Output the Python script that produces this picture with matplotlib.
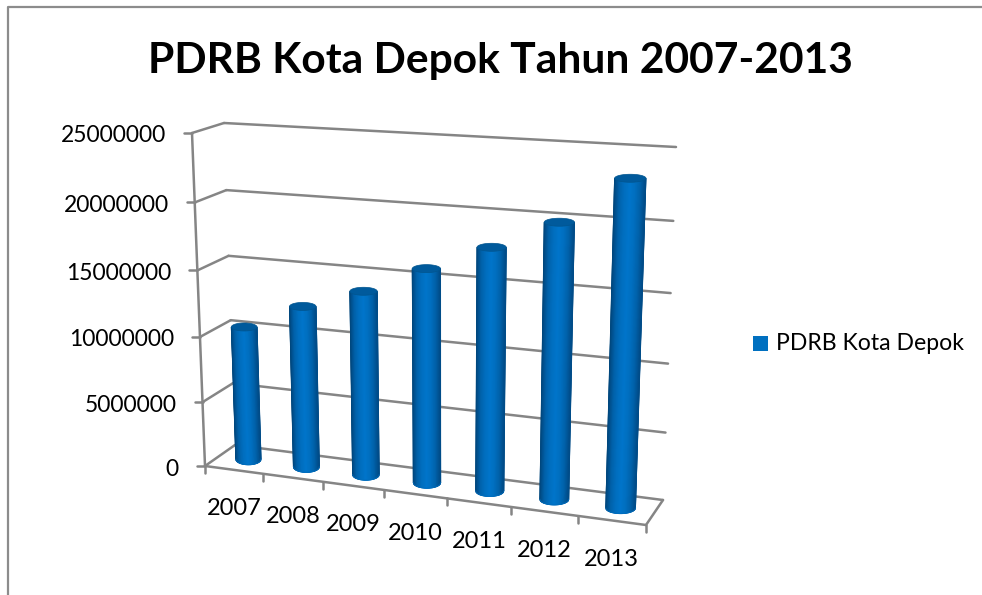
import numpy as np
import matplotlib
matplotlib.use('Agg')
import matplotlib.pyplot as plt
from matplotlib.colors import LinearSegmentedColormap
from matplotlib.patches import Polygon, Rectangle

plt.rcParams['font.family'] = ['Lato', 'DejaVu Sans']

# Data
years = ['2007', '2008', '2009', '2010', '2011', '2012', '2013']
pdrb = [10350000, 12350000, 13900000, 15950000, 17850000, 19950000, 23250000]
value_ticks = [0, 5000000, 10000000, 15000000, 20000000, 25000000]
series_name = 'PDRB Kota Depok'
title = 'PDRB Kota Depok Tahun 2007-2013'

VMAX = 25000000
GREY = '#858585'

# Corners of the chart box in pixels: (category 0, 0), (7, 0), (7, max), (0, max)
BACK = [(235, 445), (663, 500), (676, 147), (224, 123)]
FRONT = [(205, 466), (646, 525), (658, 161), (192, 133)]


def homography(corners):
    # unit square -> quad
    src = [(0, 0), (1, 0), (1, 1), (0, 1)]
    A, b = [], []
    for (u, v), (x, y) in zip(src, corners):
        A.append([u, v, 1, 0, 0, 0, -u * x, -v * x])
        A.append([0, 0, 0, u, v, 1, -u * y, -v * y])
        b += [x, y]
    h = np.linalg.solve(np.array(A, float), np.array(b, float))
    return np.append(h, 1).reshape(3, 3)


H_back = homography(BACK)
H_front = homography(FRONT)


def plane(H, cat, val):
    p = H @ np.array([cat / len(years), val / VMAX, 1.0])
    return p[:2] / p[2]


def project(cat, val, depth=0.0):
    # depth 0 is the front of the box, depth 1 the back wall
    return (1 - depth) * plane(H_front, cat, val) + depth * plane(H_back, cat, val)


def line3d(ax, a, b, zorder=2):
    ax.plot([a[0], b[0]], [a[1], b[1]], color=GREY, lw=1.8, zorder=zorder,
            solid_capstyle='round')


fig = plt.figure(figsize=(9.82, 5.95), dpi=100)
ax = fig.add_axes([0, 0, 1, 1])
ax.set_xlim(0, 982)
ax.set_ylim(595, 0)
ax.axis('off')

# Chart area border
ax.plot([8, 8, 982], [595, 7, 7], color='#8c8c8c', lw=1.6, zorder=1)

ax.text(500.5, 61, title, ha='center', va='center', fontsize=30.6, fontweight='bold',
        color='black')

# Gridlines, value axis and value labels
for v in value_ticks:
    front = project(0, v, 0)
    back_l = project(0, v, 1)
    back_r = project(len(years), v, 1)
    line3d(ax, front + np.array([-8, 0]), front)
    line3d(ax, front, back_l)
    line3d(ax, back_l, back_r)
    ax.text(front[0] - 26, front[1] + 3, str(v), ha='right', va='center',
            fontsize=16.5, color='black')
line3d(ax, project(0, 0, 0), project(0, VMAX, 0))

# Floor
n = len(years)
line3d(ax, project(n, 0, 0), project(n, 0, 1))
line3d(ax, project(0, 0, 0), project(n, 0, 0))
for i in range(n + 1):
    p = project(i, 0, 0)
    line3d(ax, p, p + np.array([0, 7]))

for i, label in enumerate(years):
    p = project(i + 0.5, 0, 0)
    ax.text(p[0], p[1] + 39, label, ha='center', va='center', fontsize=17, color='black')

# Cylinders
shade = LinearSegmentedColormap.from_list(
    'cyl', ['#00477d', '#0062ab', '#006fc0', '#0075cb', '#006fc0', '#0062ab', '#004c88'])
WIDTH = 0.44
BULGE_TOP = 4.0
BULGE_BOTTOM = 5.5
s = np.linspace(-1, 1, 61)
arc = np.sqrt(1 - s ** 2)

for i, val in enumerate(pdrb):
    c = i + 0.5
    d = 0.5
    bottom_c = project(c, 0, d)
    top_c = project(c, val, d)
    half_bot = (project(c + WIDTH / 2, 0, d)[0] - project(c - WIDTH / 2, 0, d)[0]) / 2
    half_top = (project(c + WIDTH / 2, val, d)[0] - project(c - WIDTH / 2, val, d)[0]) / 2
    X = np.vstack([bottom_c[0] + s * half_bot, top_c[0] + s * half_top])
    Y = np.vstack([bottom_c[1] + arc * BULGE_BOTTOM, top_c[1] + arc * BULGE_TOP])
    C = np.vstack([s, s])
    ax.pcolormesh(X, Y, C, shading='gouraud', cmap=shade, vmin=-1, vmax=1, zorder=3)
    # soft outline so the sides are not jagged
    ax.plot(X[:, 0], Y[:, 0], color='#00477d', lw=0.6, alpha=0.6, zorder=3)
    ax.plot(X[:, -1], Y[:, -1], color='#004c88', lw=0.6, alpha=0.6, zorder=3)
    ax.plot(X[0], Y[0], color='#006cbc', lw=0.8, alpha=0.7, zorder=3)
    t = np.linspace(0, 2 * np.pi, 80)
    ellipse = np.column_stack([top_c[0] + half_top * np.cos(t),
                               top_c[1] + BULGE_TOP * np.sin(t)])
    ax.add_patch(Polygon(ellipse, closed=True, facecolor='#005a9c', edgecolor='#00558f',
                         lw=0.5, zorder=4))

# Legend
ax.add_patch(Rectangle((753, 336), 15, 15, facecolor='#0070C0', edgecolor='none', zorder=3))
ax.text(776, 344, series_name, ha='left', va='center', fontsize=16.6, color='black')

fig.savefig('out.png', dpi=100)
